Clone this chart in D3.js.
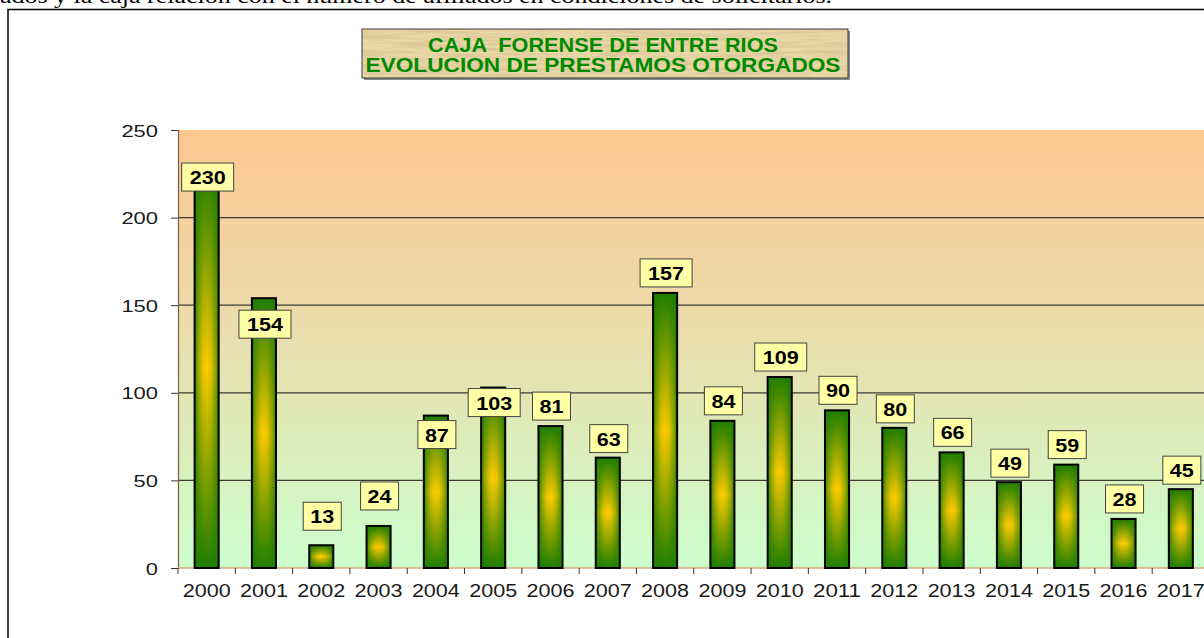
<!DOCTYPE html>
<html>
<head>
<meta charset="utf-8">
<script src="https://cdn.jsdelivr.net/npm/d3@7"></script>
<style>
body{margin:0;background:#fff;overflow:hidden;}
</style>
</head>
<body>
<div id="container"></div>
<script>
let years = ["2000","2001","2002","2003","2004","2005","2006","2007","2008",
             "2009","2010","2011","2012","2013","2014","2015","2016","2017"];
let prestamos = [230,154,13,24,87,103,81,63,157,84,109,90,80,66,49,59,28,45];
let yTicks = [0,50,100,150,200,250];
let titleLines = ["CAJA  FORENSE DE ENTRE RIOS","EVOLUCION DE PRESTAMOS OTORGADOS"];
let topText = "ados y la caja relación con el número de afiliados en condiciones de solicitarlos.";

// where each value box sits (px from bar top to box centre), they were dragged by hand
let labelDy = [12,26,-29,-30,19,15,-20,-19,-20,-20,-20,-20,-19,-20,-19,-20,-20,-19];

let w = 1204;
let h = 638;
let plotLeft = 178, plotRight = 1209.5, plotTop = 130, plotBottom = 568;
let font = "'Liberation Sans', Arial, sans-serif";
let green = "#1f7d00";
let yellow = "#ffcc00";

let viz = d3.select("#container").append("svg")
    .attr("width", w)
    .attr("height", h)
    .style("display","block")
;
let defs = viz.append("defs");

// plot background, peach on top to pale green at the bottom
let bg = defs.append("linearGradient").attr("id","plotbg")
    .attr("x1",0).attr("y1",0).attr("x2",0).attr("y2",1);
bg.append("stop").attr("offset","0%").attr("stop-color","#fdc791");
bg.append("stop").attr("offset","45%").attr("stop-color","#ebdcab");
bg.append("stop").attr("offset","100%").attr("stop-color","#ccffcc");

// bars: green ends, yellow middle + green sides
let vg = defs.append("linearGradient").attr("id","barV")
    .attr("x1",0).attr("y1",0).attr("x2",0).attr("y2",1);
vg.append("stop").attr("offset","0%").attr("stop-color",green);
vg.append("stop").attr("offset","50%").attr("stop-color",yellow);
vg.append("stop").attr("offset","100%").attr("stop-color",green);
let hg = defs.append("linearGradient").attr("id","barH")
    .attr("x1",0).attr("y1",0).attr("x2",1).attr("y2",0);
hg.append("stop").attr("offset","0%").attr("stop-color",green).attr("stop-opacity",0.9);
hg.append("stop").attr("offset","15%").attr("stop-color",green).attr("stop-opacity",0.45);
hg.append("stop").attr("offset","35%").attr("stop-color",green).attr("stop-opacity",0.08);
hg.append("stop").attr("offset","50%").attr("stop-color",green).attr("stop-opacity",0);
hg.append("stop").attr("offset","65%").attr("stop-color",green).attr("stop-opacity",0.08);
hg.append("stop").attr("offset","85%").attr("stop-color",green).attr("stop-opacity",0.45);
hg.append("stop").attr("offset","100%").attr("stop-color",green).attr("stop-opacity",0.9);

// papyrus texture for the title
let paper = defs.append("filter").attr("id","paper")
    .attr("x",0).attr("y",0).attr("width",1).attr("height",1);
paper.append("feTurbulence").attr("type","fractalNoise")
    .attr("baseFrequency","0.02 0.35").attr("numOctaves",3).attr("seed",7).attr("result","n");
paper.append("feColorMatrix").attr("in","n").attr("type","matrix")
    .attr("values","0 0 0 0 0.62  0 0 0 0 0.5  0 0 0 0 0.28  0 0 0 1.4 -0.5");
paper.append("feComposite").attr("in2","SourceGraphic").attr("operator","in");

// text from the page above the chart (cut off)
viz.append("text")
    .attr("x",0).attr("y",3)
    .attr("font-family","'Liberation Serif','Times New Roman',serif")
    .attr("font-size",22)
    .attr("textLength",832).attr("lengthAdjust","spacingAndGlyphs")
    .attr("fill","#000")
    .text(topText);

// chart frame
viz.append("rect")
    .attr("x",8).attr("y",9.5).attr("width",1230).attr("height",660)
    .attr("fill","none").attr("stroke","#000").attr("stroke-width",1.5);

// title box
viz.append("rect").attr("x",364).attr("y",31).attr("width",486).attr("height",49).attr("fill","#8a8a8a");
viz.append("rect").attr("x",362).attr("y",29).attr("width",486).attr("height",49).attr("fill","#ead7a6");
viz.append("rect").attr("x",362).attr("y",29).attr("width",486).attr("height",49).attr("fill","#fff").attr("filter","url(#paper)");
viz.append("rect").attr("x",362).attr("y",29).attr("width",486).attr("height",49)
    .attr("fill","none").attr("stroke","#3a3a3a").attr("stroke-width",1);
viz.selectAll(".title").data(titleLines).enter().append("text")
    .attr("class","title")
    .attr("x",603)
    .attr("y",function(d,i){ return 51.5 + i*20.5; })
    .attr("text-anchor","middle")
    .attr("font-family",font).attr("font-weight","bold").attr("font-size",19.5)
    .attr("fill","#008a00")
    .attr("textLength",function(d,i){ return i==0 ? 350 : 475; })
    .attr("lengthAdjust","spacingAndGlyphs")
    .style("white-space","pre")
    .text(function(d){ return d; });

let xScale = d3.scaleBand().domain(years).range([plotLeft,plotRight]).paddingInner(0).paddingOuter(0);
let yScale = d3.scaleLinear().domain([0,250]).range([plotBottom,plotTop]);
let bw = xScale.bandwidth();
let barW = bw*0.42;

// plot area
viz.append("rect")
    .attr("x",plotLeft).attr("y",plotTop).attr("width",plotRight-plotLeft).attr("height",plotBottom-plotTop)
    .attr("fill","url(#plotbg)");

// gridlines
viz.selectAll(".grid").data(yTicks.filter(function(d){ return d>0 && d<250; })).enter().append("line")
    .attr("class","grid")
    .attr("x1",plotLeft).attr("x2",plotRight)
    .attr("y1",function(d){ return yScale(d); })
    .attr("y2",function(d){ return yScale(d); })
    .attr("stroke","#3d3a30").attr("stroke-width",1.2);

// y axis
let yAxisGroup = viz.append("g").attr("transform","translate("+plotLeft+",0)");
let yAxis = d3.axisLeft(yScale).tickValues(yTicks).tickSize(7).tickPadding(13);
yAxisGroup.call(yAxis);
yAxisGroup.select(".domain").attr("stroke","#7a5e48").attr("stroke-width",1.2);
yAxisGroup.selectAll(".tick line").attr("stroke","#333");
yAxisGroup.selectAll(".tick text")
    .attr("font-family",font).attr("font-size",17).attr("fill","#1a1a1a")
    .attr("dy","0.36em")
    .attr("textLength",function(d){ return String(d).length*12.2; })
    .attr("lengthAdjust","spacingAndGlyphs");

// x axis: line, ticks between the years, labels
viz.append("line")
    .attr("x1",plotLeft).attr("x2",plotRight).attr("y1",plotBottom).attr("y2",plotBottom)
    .attr("stroke","#d9a77c").attr("stroke-width",1.5);
viz.selectAll(".xtick").data(years.concat(["end"])).enter().append("line")
    .attr("class","xtick")
    .attr("x1",function(d){ return d=="end" ? plotRight : xScale(d); })
    .attr("x2",function(d){ return d=="end" ? plotRight : xScale(d); })
    .attr("y1",plotBottom).attr("y2",plotBottom+6)
    .attr("stroke","#333");
viz.selectAll(".xlabel").data(years).enter().append("text")
    .attr("class","xlabel")
    .attr("x",function(d){ return xScale(d)+bw/2; })
    .attr("y",597)
    .attr("text-anchor","middle")
    .attr("font-family",font).attr("font-size",18).attr("fill","#1a1a1a")
    .attr("textLength",48).attr("lengthAdjust","spacingAndGlyphs")
    .text(function(d){ return d; });

// bars
let bars = viz.selectAll(".bar").data(prestamos).enter().append("g").attr("class","bar");
bars.append("rect")
    .attr("x",function(d,i){ return xScale(years[i])+(bw-barW)/2; })
    .attr("y",function(d){ return yScale(d); })
    .attr("width",barW)
    .attr("height",function(d){ return plotBottom-yScale(d); })
    .attr("fill","url(#barV)");
bars.append("rect")
    .attr("x",function(d,i){ return xScale(years[i])+(bw-barW)/2; })
    .attr("y",function(d){ return yScale(d); })
    .attr("width",barW)
    .attr("height",function(d){ return plotBottom-yScale(d); })
    .attr("fill","url(#barH)")
    .attr("stroke","#000").attr("stroke-width",2);

// value boxes
let labels = viz.selectAll(".vlabel").data(prestamos).enter().append("g").attr("class","vlabel")
    .attr("transform",function(d,i){
      return "translate("+(xScale(years[i])+bw/2+1)+","+(yScale(d)+labelDy[i])+")";
    });
labels.append("rect")
    .attr("x",function(d){ return -(10+14*String(d).length)/2; })
    .attr("y",-14)
    .attr("width",function(d){ return 10+14*String(d).length; })
    .attr("height",28)
    .attr("fill","#ffffa6").attr("stroke","#444").attr("stroke-width",1);
labels.append("text")
    .attr("y",7)
    .attr("text-anchor","middle")
    .attr("font-family",font).attr("font-weight","bold").attr("font-size",18.5).attr("fill","#000")
    .attr("textLength",function(d){ return String(d).length*12; })
    .attr("lengthAdjust","spacingAndGlyphs")
    .text(function(d){ return d; });
</script>
</body>
</html>
